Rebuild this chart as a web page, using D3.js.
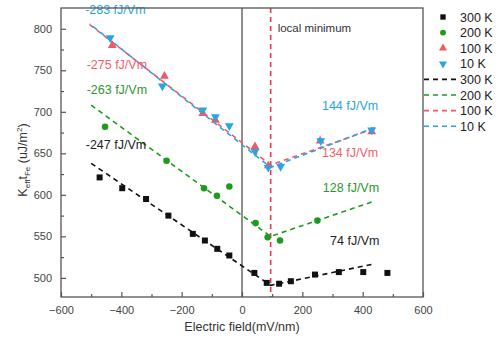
<!DOCTYPE html>
<html>
<head>
<meta charset="utf-8">
<script src="https://cdn.jsdelivr.net/npm/d3@7"></script>
<style>
  body { margin: 0; background: #fff; }
  svg { font-family: "Liberation Sans", Arial, sans-serif; }
</style>
</head>
<body>
<div id="chart"></div>
<script>
// measured points, [field (mV/nm), Keff*tFe (uJ/m2)]
var pts300 = [[-472, 621], [-397, 608], [-318, 595], [-244, 575], [-163, 553], [-123, 545], [-82, 535], [-42, 527],
              [41, 506], [82, 494], [123, 493], [162, 496], [242, 504], [321, 507], [402, 507], [482, 506]]
var pts200 = [[-454, 682], [-250, 641], [-126, 608], [-83, 599], [-42, 610], [45, 566], [85, 549], [126, 545], [250, 569]]
var pts100 = [[-430, 780], [-257, 743], [-130, 698], [-88, 690], [43, 658], [87, 635], [259, 665], [430, 676]]
var pts10 = [[-437, 789], [-264, 731], [-130, 702], [-88, 694], [-42, 683], [43, 652], [87, 633], [128, 634], [261, 665], [430, 678]]

// fitted dashed segments (left branch, minimum, right branch)
var fit300 = [[-500, 638], [95, 491], [440, 517]]
var fit200 = [[-500, 708], [95, 550], [435, 592]]
var fit100 = [[-505, 805], [95, 636], [440, 680]]
var fit10 = [[-505, 806], [95, 633], [440, 681]]

var localMin = 95
var xTicks = [-600, -400, -200, 0, 200, 400, 600]
var yTicks = [500, 550, 600, 650, 700, 750, 800]

var slopeLabels = [
    {text: "-283 fJ/Vm", x: -520, y: 818, c: "#2aa6de"},
    {text: "-275 fJ/Vm", x: -515, y: 751, c: "#ef5f6b"},
    {text: "-263 fJ/Vm", x: -515, y: 721, c: "#2e962e"},
    {text: "-247 fJ/Vm", x: -518, y: 655, c: "#222"},
    {text: "144 fJ/Vm", x: 265, y: 702, c: "#2aa6de"},
    {text: "134 fJ/Vm", x: 265, y: 646, c: "#ef5f6b"},
    {text: "128 fJ/Vm", x: 268, y: 603, c: "#2e962e"},
    {text: "74 fJ/Vm", x: 292, y: 540, c: "#222"}
]

var series = [
    {name: "300 K", pts: pts300, fit: fit300, c: "#111", sym: d3.symbolSquare, size: 36, rot: 0},
    {name: "200 K", pts: pts200, fit: fit200, c: "#1e9a1e", sym: d3.symbolCircle, size: 34, rot: 0},
    {name: "100 K", pts: pts100, fit: fit100, c: "#ef5a66", sym: d3.symbolTriangle, size: 34, rot: 0},
    {name: "10 K", pts: pts10, fit: fit10, c: "#29a6e0", sym: d3.symbolTriangle, size: 34, rot: 180}
]

var W = 504, H = 338
var svg = d3.select("#chart").append("svg").attr("width", W).attr("height", H)

var x = d3.scaleLinear().domain([-600, 600]).range([61, 423])
var y = d3.scaleLinear().domain([477, 825]).range([297, 8])

var line = d3.line().x(function(d){return x(d[0])}).y(function(d){return y(d[1])})

// zero line
svg.append("line")
    .attr("x1", x(0)).attr("x2", x(0)).attr("y1", y(825)).attr("y2", y(477))
    .attr("stroke", "#444").attr("stroke-width", 1.2)

// fits: red then blue offset so both show
series.forEach(function(s, i){
    svg.append("path")
        .attr("d", line(s.fit))
        .attr("fill", "none")
        .attr("stroke", s.c)
        .attr("stroke-width", 1.6)
        .attr("stroke-dasharray", "5,4")
        .attr("stroke-dashoffset", i == 3 ? 4.5 : 0)
})

// local minimum
svg.append("line")
    .attr("x1", x(localMin)).attr("x2", x(localMin)).attr("y1", y(825)).attr("y2", y(477))
    .attr("stroke", "#e8384f").attr("stroke-width", 1.6).attr("stroke-dasharray", "5,4")
svg.append("text")
    .attr("x", x(localMin) + 7).attr("y", 32)
    .attr("font-size", 11.5).attr("fill", "#333")
    .text("local minimum")

// markers
series.forEach(function(s){
    svg.append("g").selectAll("path")
        .data(s.pts)
        .enter().append("path")
        .attr("d", d3.symbol().type(s.sym).size(s.size))
        .attr("fill", s.c)
        .attr("transform", function(d){ return "translate(" + x(d[0]) + "," + y(d[1]) + ") rotate(" + s.rot + ")" })
})

// slope labels
svg.append("g").selectAll("text")
    .data(slopeLabels)
    .enter().append("text")
    .attr("x", function(d){return x(d.x)})
    .attr("y", function(d){return y(d.y)})
    .attr("font-size", 12.5)
    .attr("fill", function(d){return d.c})
    .text(function(d){return d.text})

// frame
svg.append("rect")
    .attr("x", 61).attr("y", 8).attr("width", 362).attr("height", 289)
    .attr("fill", "none").attr("stroke", "#555").attr("stroke-width", 1.3)

// axes, ticks inward
var xAxis = svg.append("g").attr("transform", "translate(0,297)")
    .call(d3.axisBottom(x).tickValues(xTicks).tickSize(-5).tickPadding(9).tickFormat(d3.format("d")))
var xMinor = svg.append("g").attr("transform", "translate(0,297)")
    .call(d3.axisBottom(x).tickValues(d3.range(-500, 600, 200)).tickSize(-3).tickFormat(""))
var yAxis = svg.append("g").attr("transform", "translate(61,0)")
    .call(d3.axisLeft(y).tickValues(yTicks).tickSize(-5).tickPadding(9))
var yMinor = svg.append("g").attr("transform", "translate(61,0)")
    .call(d3.axisLeft(y).tickValues(d3.range(525, 800, 50)).tickSize(-3).tickFormat(""))

;[xAxis, xMinor, yAxis, yMinor].forEach(function(a){
    a.select(".domain").remove()
    a.selectAll(".tick line").attr("stroke", "#555").attr("stroke-width", 1.2)
    a.selectAll("text").attr("font-size", 11).attr("fill", "#444")
        .style("font-family", "'Liberation Sans', Arial, sans-serif")
})

// axis titles
svg.append("text")
    .attr("x", x(0)).attr("y", 331)
    .attr("text-anchor", "middle").attr("font-size", 12.5).attr("fill", "#333")
    .text("Electric field(mV/nm)")

var yt = svg.append("text")
    .attr("transform", "translate(27,160) rotate(-90)")
    .attr("text-anchor", "middle").attr("font-size", 12.5).attr("fill", "#333")
yt.append("tspan").text("K")
yt.append("tspan").attr("font-size", 8).attr("dy", 3).text("eff")
yt.append("tspan").attr("dy", -3).text("t")
yt.append("tspan").attr("font-size", 8).attr("dy", 3).text("Fe")
yt.append("tspan").attr("dy", -3).text(" (uJ/m")
yt.append("tspan").attr("font-size", 8).attr("dy", -5).text("2")
yt.append("tspan").attr("dy", 5).text(")")

// legend
var leg = svg.append("g")
series.forEach(function(s, i){
    var ly = 17 + i * 15.6
    leg.append("path")
        .attr("d", d3.symbol().type(s.sym).size(s.size * 0.8))
        .attr("fill", s.c)
        .attr("transform", "translate(443," + ly + ") rotate(" + s.rot + ")")
    leg.append("text").attr("x", 460).attr("y", ly + 4.5)
        .attr("font-size", 12.5).attr("fill", "#222").text(s.name)
})
series.forEach(function(s, i){
    var ly = 17 + (i + 4) * 15.6
    leg.append("line")
        .attr("x1", 424).attr("x2", 456).attr("y1", ly).attr("y2", ly)
        .attr("stroke", s.c).attr("stroke-width", 1.6).attr("stroke-dasharray", "5,4")
    leg.append("text").attr("x", 460).attr("y", ly + 4.5)
        .attr("font-size", 12.5).attr("fill", "#222").text(s.name)
})
</script>
</body>
</html>
